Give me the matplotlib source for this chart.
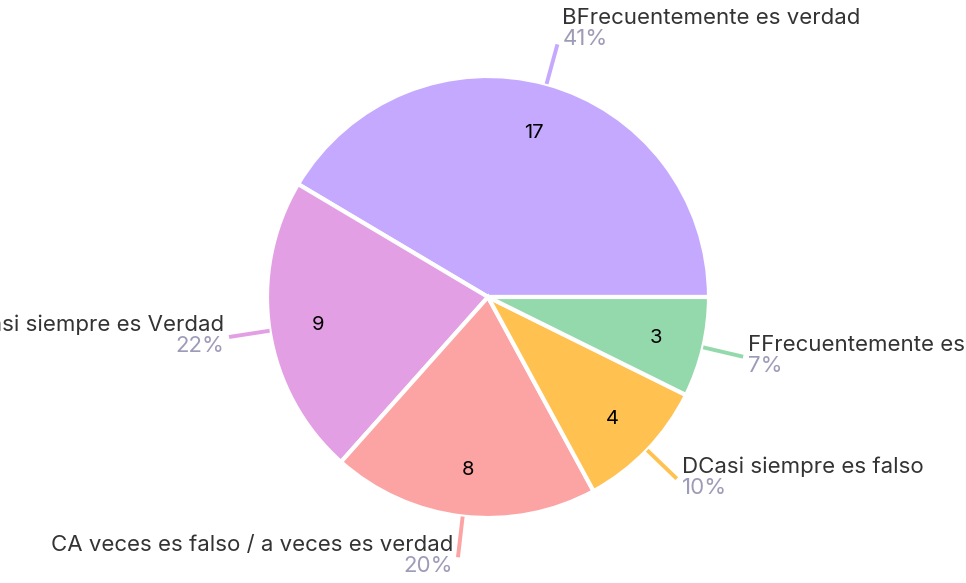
import numpy as np
import matplotlib
matplotlib.use('Agg')
import matplotlib.pyplot as plt

# Datos
labels = ['BFrecuentemente es verdad', 'ACasi siempre es Verdad',
          'CA veces es falso / a veces es verdad', 'DCasi siempre es falso',
          'FFrecuentemente es falso']
values = [17, 9, 8, 4, 3]
percents = ['41%', '22%', '20%', '10%', '7%']
colors = ['#c5a9fe', '#e29fe3', '#fca3a3', '#ffc251', '#94d9ac']

W, H = 966, 583
CX, CY, R = 488, H - 297, 221

plt.rcParams['font.family'] = ['Inter', 'DejaVu Sans']
fig = plt.figure(figsize=(W / 100, H / 100), dpi=100)
ax = fig.add_axes([0, 0, 1, 1])

wedges, texts = ax.pie(values, startangle=0, counterclock=True,
                       center=(CX, CY), radius=R, colors=colors,
                       labels=[str(v) for v in values], labeldistance=0.78,
                       wedgeprops=dict(edgecolor='white', linewidth=3),
                       textprops=dict(fontsize=14.5, color='black',
                                      ha='center', va='center'))
for t in texts:
    t.set_y(t.get_position()[1] - 2)
ax.set_xlim(0, W)
ax.set_ylim(0, H)
ax.axis('off')

# Líneas guía y etiquetas
for w, name, pct, col in zip(wedges, labels, percents, colors):
    ang = np.deg2rad((w.theta1 + w.theta2) / 2)
    c, s = np.cos(ang), np.sin(ang)
    x0, y0 = CX + R * c, CY + R * s
    x1, y1 = CX + 262 * c, CY + 262 * s
    ax.plot([x0, x1], [y0, y1], color=col, lw=2.8, solid_capstyle='butt')
    if c >= 0:
        tx, ha = x1 + 5, 'left'
    else:
        tx, ha = x1 - 5, 'right'
    ty = y1 + (14 if s > 0.5 else 0)
    ax.text(tx, ty + 2, name, ha=ha, va='bottom', fontsize=16, color='#333333')
    ax.text(tx, ty + 1, pct, ha=ha, va='top', fontsize=16, color='#9d9cb8')

fig.savefig('out.png', dpi=100)
